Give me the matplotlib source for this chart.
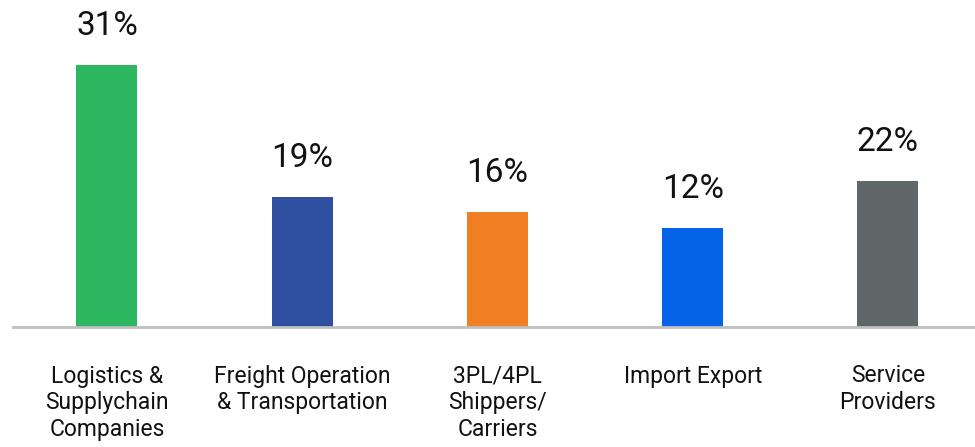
import matplotlib
matplotlib.use("Agg")
import matplotlib.pyplot as plt
from matplotlib import font_manager

categories = ["Logistics &\nSupplychain\nCompanies",
              "Freight Operation\n& Transportation",
              "3PL/4PL\nShippers/\nCarriers",
              "Import Export",
              "Service\nProviders"]
value_labels = ["31%", "19%", "16%", "12%", "22%"]
bar_heights = [31, 15.4, 13.6, 11.7, 17.3]
colors = ["#2DB760", "#2F4FA0", "#F07E22", "#0563E8", "#5F6769"]

names = {f.name for f in font_manager.fontManager.ttflist}
fam = [n for n in ["Roboto", "DejaVu Sans"] if n in names]
plt.rcParams['font.family'] = fam

fig = plt.figure(figsize=(9.75, 4.47), dpi=100)
ax = fig.add_axes([12.5 / 975, 120 / 447, 1 - 12.5 / 975, 327 / 447])

x = list(range(len(categories)))
ax.bar(x, bar_heights, width=0.3125, color=colors, zorder=2)
ax.set_xlim(-0.484, 4.446)
ax.set_ylim(0, 38.7)

for xi, h, lab in zip(x, bar_heights, value_labels):
    ax.annotate(lab, (xi, h), xytext=(0, 21.6), textcoords="offset points",
                ha="center", va="baseline", fontsize=24, color="#111111",
                fontweight="normal")

ax.set_xticks(x)
ax.set_xticklabels(categories, fontsize=16.5, color="#111111", linespacing=1.22,
                   fontweight="normal")
ax.tick_params(axis="x", length=0, pad=27)
ax.set_yticks([])
for s in ["top", "right", "left"]:
    ax.spines[s].set_visible(False)
ax.spines["bottom"].set_color("#BFBFBF")
ax.spines["bottom"].set_linewidth(2)

fig.savefig("out.png", dpi=100)
